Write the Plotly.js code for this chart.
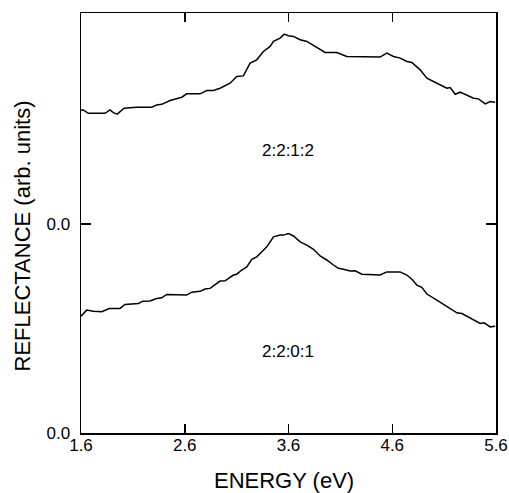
<!DOCTYPE html>
<html>
<head>
<meta charset="utf-8">
<script src="https://cdn.plot.ly/plotly-3.0.1.min.js"></script>
<style>html,body{margin:0;padding:0;background:#fff;}#chart{width:509px;height:493px;}</style>
</head>
<body>
<div id="chart"></div>
<script>
// Upper curve: 2:2:1:2 (offset baseline 1.0)
const energyA = [1.600,1.622,1.670,1.831,1.880,1.912,1.950,2.015,2.137,2.282,2.330,2.378,2.458,2.539,2.571,2.619,2.748,2.812,2.876,2.940,3.037,3.101,3.165,3.230,3.294,3.358,3.423,3.455,3.519,3.558,3.599,3.648,3.712,3.777,3.873,3.953,4.066,4.162,4.483,4.548,4.612,4.676,4.741,4.789,4.869,4.934,5.030,5.127,5.158,5.207,5.255,5.383,5.431,5.496,5.544,5.592];
const reflA = [1.546,1.546,1.530,1.530,1.546,1.533,1.526,1.554,1.559,1.559,1.570,1.573,1.591,1.602,1.607,1.623,1.623,1.639,1.639,1.650,1.674,1.706,1.709,1.770,1.786,1.826,1.850,1.874,1.890,1.909,1.901,1.898,1.882,1.874,1.845,1.821,1.821,1.802,1.799,1.818,1.802,1.794,1.778,1.773,1.738,1.698,1.674,1.650,1.653,1.621,1.631,1.602,1.599,1.575,1.586,1.583];

// Lower curve: 2:2:0:1
const energyB = [1.600,1.655,1.719,1.800,1.873,1.976,2.024,2.153,2.195,2.265,2.330,2.378,2.426,2.619,2.667,2.748,2.796,2.844,2.940,2.989,3.069,3.101,3.150,3.198,3.246,3.294,3.343,3.391,3.455,3.519,3.551,3.599,3.648,3.712,3.777,3.841,3.905,3.969,4.033,4.081,4.130,4.194,4.242,4.307,4.483,4.548,4.676,4.741,4.789,4.837,4.885,4.934,5.030,5.127,5.223,5.271,5.383,5.448,5.486,5.544,5.592];
const reflB = [0.559,0.588,0.583,0.580,0.596,0.596,0.615,0.620,0.631,0.632,0.644,0.647,0.663,0.660,0.674,0.678,0.689,0.692,0.727,0.728,0.756,0.760,0.780,0.795,0.831,0.843,0.867,0.891,0.939,0.947,0.947,0.955,0.943,0.915,0.899,0.879,0.847,0.828,0.804,0.788,0.784,0.775,0.776,0.760,0.756,0.771,0.771,0.756,0.736,0.708,0.697,0.665,0.636,0.607,0.575,0.572,0.543,0.524,0.527,0.508,0.511];

const xTicks = [1.6, 2.6, 3.6, 4.6, 5.6];
const xTickText = ["1.6", "2.6", "3.6", "4.6", "5.6"];
const yTicks = [0, 1];
const yTickText = ["0.0", "0.0"];
const sampleLabels = ["2:2:1:2", "2:2:0:1"];
const labelPos = [[3.591, 1.351], [3.591, 0.388]];

const lineStyle = {color: '#000', width: 1.5};
const data = [
  {x: energyA, y: reflA, mode: 'lines', line: lineStyle, hoverinfo: 'skip'},
  {x: energyB, y: reflB, mode: 'lines', line: lineStyle, hoverinfo: 'skip'}
];

const font = 'Liberation Sans, Arial, Helvetica, sans-serif';
const annotations = sampleLabels.map((t, i) => ({
  x: labelPos[i][0], y: labelPos[i][1], xref: 'x', yref: 'y', text: t,
  showarrow: false, font: {family: font, size: 17, color: '#000'}
}));
annotations.push({
  x: -0.14, y: 0.47, xref: 'paper', yref: 'paper', text: 'REFLECTANCE (arb. units)',
  textangle: -90, showarrow: false, xanchor: 'center', yanchor: 'middle',
  font: {family: font, size: 22, color: '#000'}
});
annotations.push({
  x: 0.49, y: -0.112, xref: 'paper', yref: 'paper', text: 'ENERGY (eV)',
  showarrow: false, xanchor: 'center', yanchor: 'middle',
  font: {family: font, size: 22, color: '#000'}
});

const layout = {
  width: 509, height: 493,
  margin: {l: 81, r: 13, t: 13, b: 60},
  paper_bgcolor: '#fff', plot_bgcolor: '#fff',
  showlegend: false,
  font: {family: font, color: '#000'},
  xaxis: {
    range: [1.6, 5.6], tickvals: xTicks, ticktext: xTickText,
    ticks: 'inside', ticklen: 9, tickwidth: 1.5, tickcolor: '#000',
    showline: true, linewidth: 1.5, linecolor: '#000', mirror: 'ticks',
    showgrid: false, zeroline: false, ticklabelstandoff: -4,
    tickfont: {family: font, size: 17, color: '#000'}
  },
  yaxis: {
    range: [0, 2.01], tickvals: yTicks, ticktext: yTickText,
    ticks: 'inside', ticklen: 10, tickwidth: 1.5, tickcolor: '#000',
    showline: true, linewidth: 1.5, linecolor: '#000', mirror: 'ticks',
    showgrid: false, zeroline: false, ticklabelstandoff: 6,
    tickfont: {family: font, size: 17, color: '#000'}
  },
  annotations: annotations
};

Plotly.newPlot('chart', data, layout, {staticPlot: true, displayModeBar: false});
</script>
</body>
</html>
